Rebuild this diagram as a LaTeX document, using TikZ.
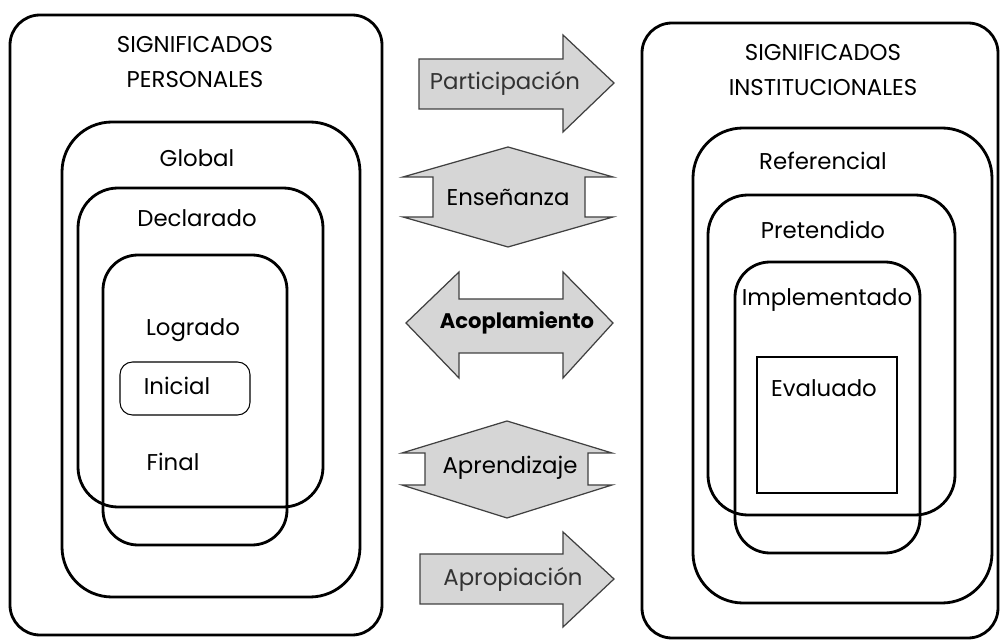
\documentclass[tikz,border=0pt]{standalone}
\usepackage{fontspec}
\setmainfont{Poppins}
\tikzset{
  bigbox/.style={line width=1.6pt, rounded corners=#1},
  smallbox/.style={line width=0.6pt, rounded corners=#1},
  arrowshape/.style={fill=black!16, draw=black!75, line width=0.7pt, line join=miter},
  lbl/.style={font=\fontsize{13}{20}\selectfont, inner sep=0pt, align=center},
}

\begin{document}
\begin{tikzpicture}[x=0.02cm, y=-0.02cm]
  \useasboundingbox (0,0) rectangle (1002,641);

  % personal meanings
  \draw [bigbox=0.6cm] (10,15) rectangle (382,635);
  \draw [bigbox=1cm] (62,122) rectangle (360,597);
  \draw [bigbox=0.8cm] (78,188) rectangle (323,507);
  \draw [bigbox=0.7cm] (103,255) rectangle (287,545);
  \draw [smallbox=0.25cm] (120,362) rectangle (250,415);

  \node [lbl] (personal) at (195,62) {SIGNIFICADOS\\PERSONALES};
  \node [lbl] (global) at (197,158) {Global};
  \node [lbl] (declarado) at (197,218) {Declarado};
  \node [lbl] (logrado) at (193,330) {Logrado};
  \node [lbl] (inicial) at (177,386) {Inicial};
  \node [lbl] (final) at (173,462) {Final};

  % institutional meanings
  \draw [bigbox=0.6cm] (642,23) rectangle (998,638);
  \draw [bigbox=1cm] (693,128) rectangle (992,603);
  \draw [bigbox=0.8cm] (708,195) rectangle (955,515);
  \draw [bigbox=0.7cm] (735,262) rectangle (920,553);
  \draw [smallbox=0pt] (757,357) rectangle (897,493);

  \node [lbl] (institucional) at (823,70) {SIGNIFICADOS\\INSTITUCIONALES};
  \node [lbl] (referencial) at (823,161) {Referencial};
  \node [lbl] (pretendido) at (823,230) {Pretendido};
  \node [lbl] (implementado) at (827,300) {Implementado};
  \node [lbl] (evaluado) at (824,388) {Evaluado};

  % arrows in between
  \filldraw [arrowshape] (419,59) -- (563,59) -- (563,35) -- (614,83) -- (563,132) -- (563,109) -- (419,109) -- cycle;
  \filldraw [arrowshape] (508,147) -- (613,177) -- (585,177) -- (585,217) -- (613,217) -- (508,247) -- (403,217) -- (433,217) -- (433,177) -- (403,177) -- cycle;
  \filldraw [arrowshape] (406,323) -- (459,272) -- (459,299) -- (563,299) -- (563,272) -- (613,323) -- (563,378) -- (563,353) -- (459,353) -- (459,378) -- cycle;
  \filldraw [arrowshape] (507,421) -- (612,453) -- (588,453) -- (588,485) -- (612,485) -- (507,518) -- (402,485) -- (425,485) -- (425,453) -- (402,453) -- cycle;
  \filldraw [arrowshape] (420,554) -- (563,554) -- (563,532) -- (614,579) -- (563,627) -- (563,604) -- (420,604) -- cycle;

  \node [lbl, black!80] (participacion) at (505,83) {Participación};
  \node [lbl] (ensenanza) at (508,197) {Enseñanza};
  \node [lbl, font=\fontsize{12}{20}\selectfont\bfseries] (acoplamiento) at (517,323) {Acoplamiento};
  \node [lbl] (aprendizaje) at (510,468) {Aprendizaje};
  \node [lbl, black!80] (apropiacion) at (513,579) {Apropiación};
\end{tikzpicture}
\end{document}
